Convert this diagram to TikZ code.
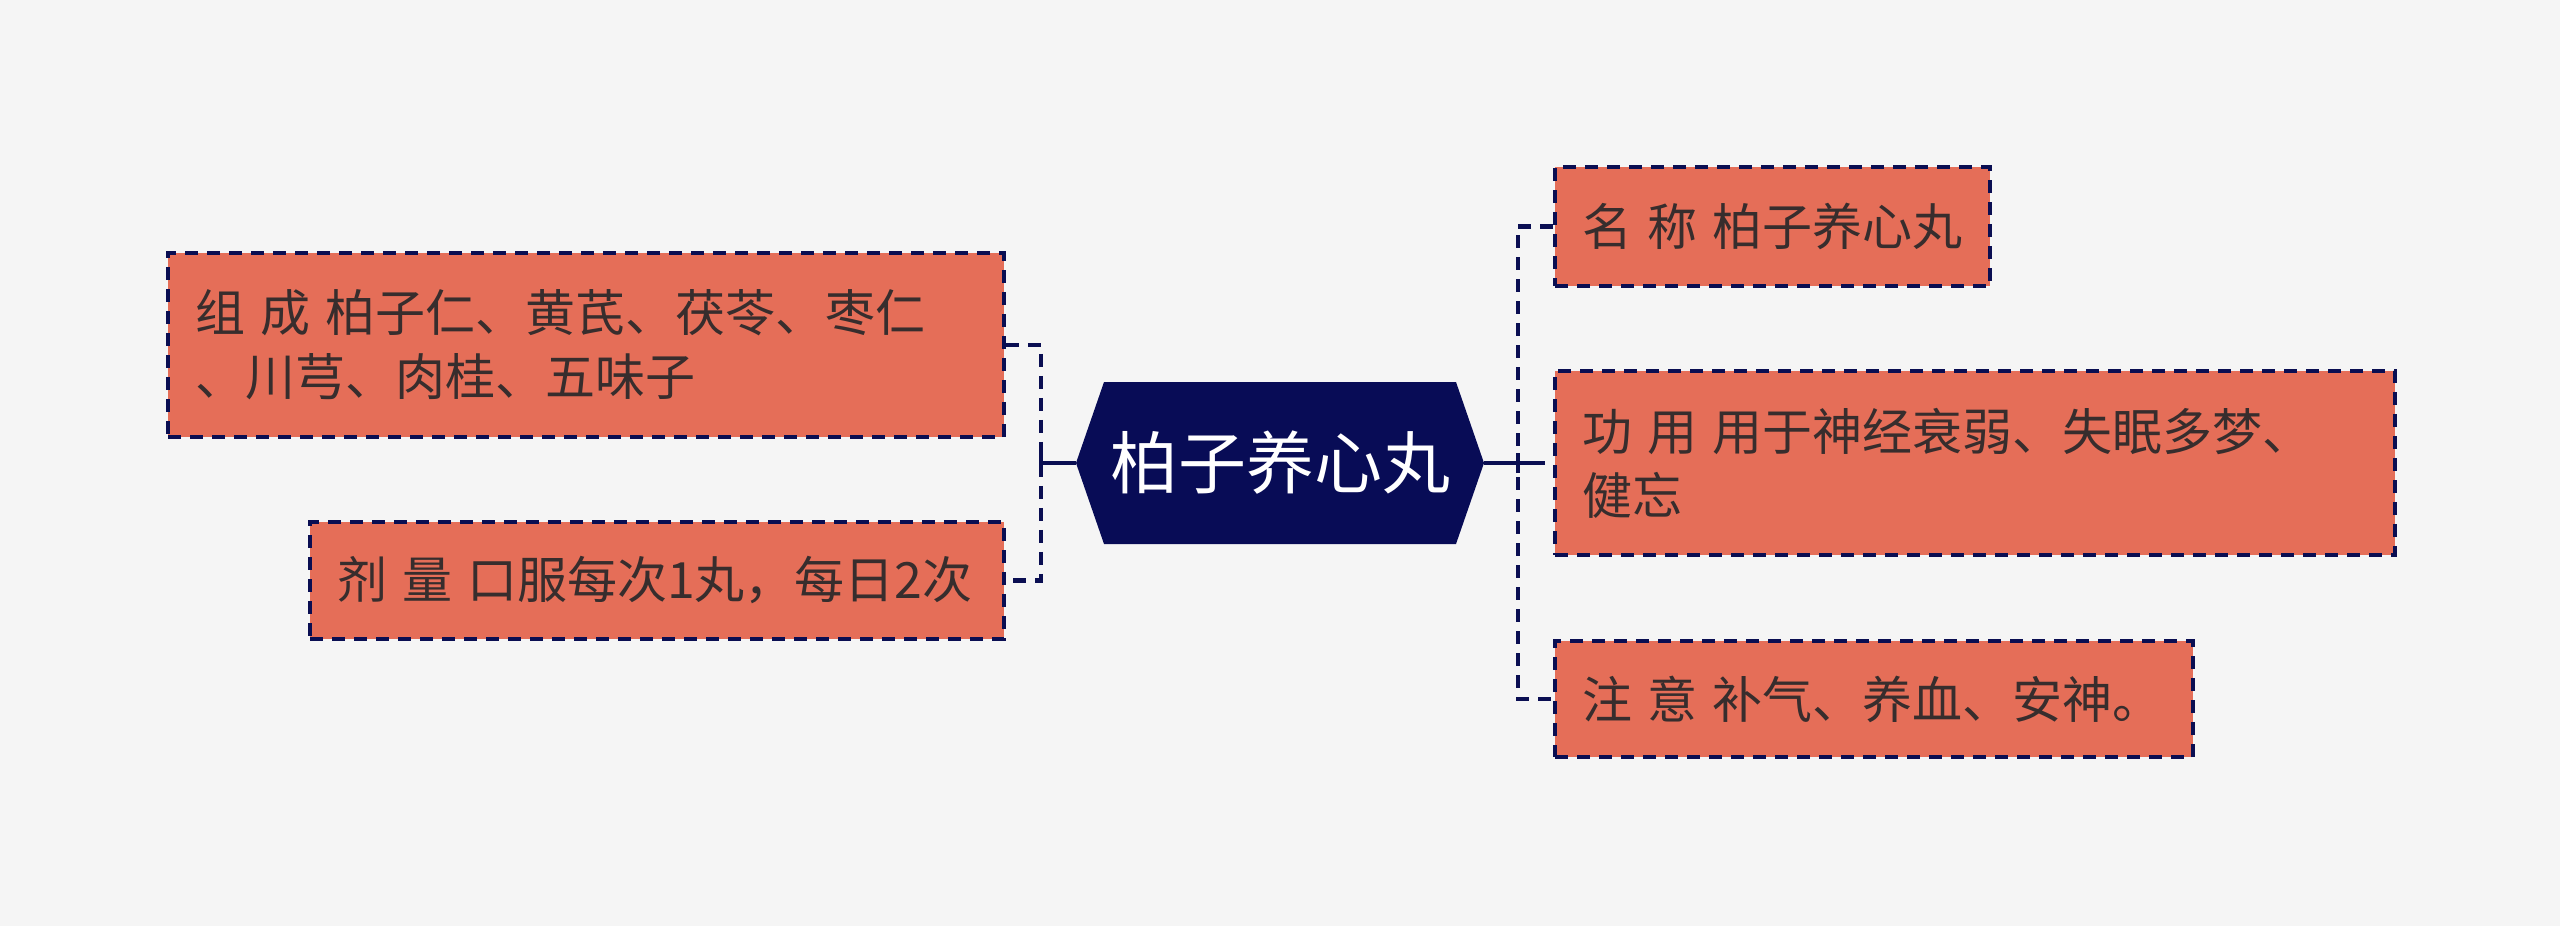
\documentclass[tikz,border=0pt]{standalone}
\usepackage{fontspec}
\setmainfont{Noto Sans CJK SC}
\definecolor{bgc}{RGB}{245,245,245}
\definecolor{boxc}{RGB}{229,110,88}
\definecolor{navy}{RGB}{10,14,82}
\definecolor{hexc}{RGB}{8,12,86}
\definecolor{txtc}{RGB}{55,45,45}
\newcommand\gp{\nobreak\hspace{0.3em}\nobreak}
\begin{document}
\begin{tikzpicture}[x=0.5pt,y=-0.5pt,
  leaf/.style={draw=navy, fill=boxc, line width=1.8pt, dash pattern=on 6.5pt off 4.5pt,
    text=txtc, font=\fontsize{25}{32}\selectfont, align=left,
    inner xsep=13.5pt, inner ysep=0pt, anchor=center},
  link/.style={draw=navy, line width=2.4pt, dash pattern=on 6.5pt off 4.5pt},
  stem/.style={draw=navy, line width=2.4pt},
  hub/.style={text=white, font=\fontsize{34}{40}\selectfont,
    minimum width=204pt, minimum height=81pt, inner sep=0pt}]
\fill[bgc] (0,0) rectangle (2560,926);
\useasboundingbox (0,0) rectangle (2560,926);

% central hexagon
\fill[hexc] (1076,463) -- (1104,382) -- (1456,382) -- (1484,463) -- (1456,544) -- (1104,544) -- cycle;
\node[hub] (c) at (1280,463) {柏子养心丸};

% left branches
\node[leaf, text width=391pt, minimum height=92pt] (b1) at (586,345)
  {组\gp 成\gp 柏子仁、黄芪、茯苓、枣仁\\、川芎、肉桂、五味子};
\node[leaf, text width=320pt, minimum height=58.5pt] (b2) at (657,580.5)
  {剂\gp 量\gp 口服每次1丸，每日2次};

% right branches
\node[leaf, text width=190.5pt, minimum height=59.5pt] (r1) at (1772.5,226.5)
  {名\gp 称\gp 柏子养心丸};
\node[leaf, text width=393pt, minimum height=92pt] (r2) at (1975,463)
  {功\gp 用\gp 用于神经衰弱、失眠多梦、\\健忘};
\node[leaf, text width=292pt, minimum height=58pt] (r3) at (1874,699)
  {注\gp 意\gp 补气、养血、安神。};

% junctions
\coordinate (jl) at (1041,463);
\coordinate (jr) at (1518,463);

% connectors
\draw[stem] (c.west) -- (jl);
\draw[stem] ([yshift=-5pt]jl) -- ([yshift=5pt]jl);
\draw[link] (b1.east) -| (jl) |- (b2.east);

\draw[stem] (c.east) -- ([xshift=7pt]jr);
\draw[stem] ([yshift=-5pt]jr) -- ([yshift=5pt]jr);
\draw[link] (r1.west) -| (jr) |- (r3.west);
\draw[link] ([xshift=7pt]jr) -- (r2.west);
\end{tikzpicture}
\end{document}
